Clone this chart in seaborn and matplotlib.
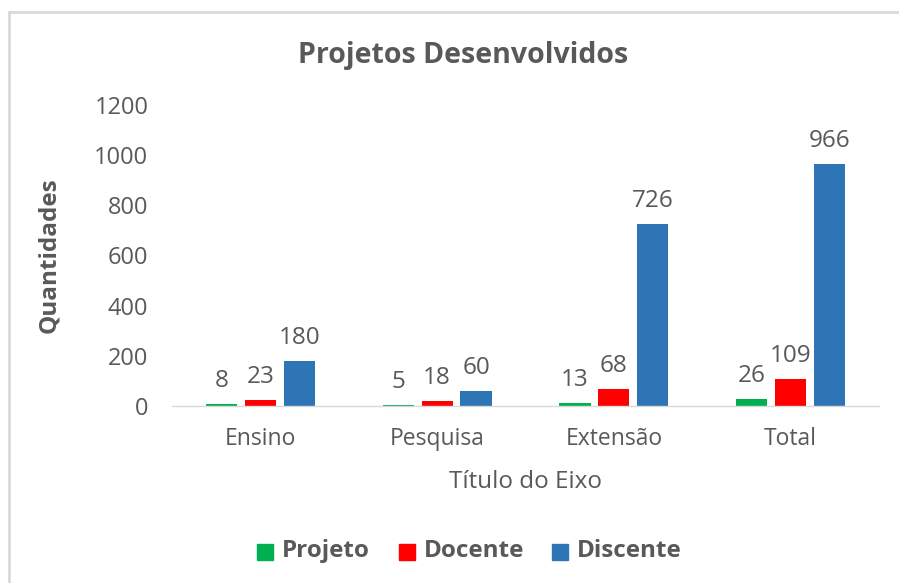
import matplotlib
matplotlib.use("Agg")
import matplotlib.pyplot as plt
from matplotlib.lines import Line2D
import seaborn as sns
import pandas as pd

categories = ["Ensino", "Pesquisa", "Extensão", "Total"]
series_names = ["Projeto", "Docente", "Discente"]
projeto = [8, 5, 13, 26]
docente = [23, 18, 68, 109]
discente = [180, 60, 726, 966]
colors = ["#00B050", "#FF0000", "#2E75B6"]
yticks = [0, 200, 400, 600, 800, 1000, 1200]

rows = []
for name, vals in zip(series_names, [projeto, docente, discente]):
    for c, v in zip(categories, vals):
        rows.append({"Categoria": c, "Série": name, "Valor": v})
df = pd.DataFrame(rows)

sns.set_theme(style="white")
plt.rcParams["font.family"] = ["Open Sans", "DejaVu Sans"]
text_color = "#595959"

W, H = 899, 583
fig = plt.figure(figsize=(W / 100, H / 100), dpi=100)
ax = fig.add_axes([172 / W, 1 - 406 / H, (879 - 172) / W, (406 - 105) / H])

sns.barplot(data=df, x="Categoria", y="Valor", hue="Série", order=categories,
            hue_order=series_names, palette=colors, width=0.66, gap=0.2,
            saturation=1, linewidth=0, ax=ax, legend=False)

for cont in ax.containers:
    ax.bar_label(cont, padding=8, fontsize=17.5, color=text_color)

ax.set_ylim(0, 1200)
ax.set_yticks(yticks)
ax.set_yticklabels([str(t) for t in yticks], fontsize=17, color=text_color)
ax.tick_params(axis="x", labelsize=16.5, colors=text_color, length=0, pad=15)
ax.tick_params(axis="y", length=0, pad=17)
for s in ["top", "right", "left"]:
    ax.spines[s].set_visible(False)
ax.spines["bottom"].set_color("#D9D9D9")
ax.spines["bottom"].set_linewidth(1)

ax.set_xlabel("Título do Eixo", fontsize=17.5, color=text_color, labelpad=14)
ax.set_ylabel("Quantidades", fontsize=17.5, fontweight="bold", color=text_color, labelpad=24)

fig.text(463 / W, 1 - 56 / H, "Projetos Desenvolvidos", ha="center", va="center",
         fontsize=20.5, fontweight="bold", color=text_color)

handles = [Line2D([0], [0], marker="s", linestyle="none", markersize=11,
                  markerfacecolor=c, markeredgecolor=c) for c in colors]
leg = fig.legend(handles, series_names, loc="center", bbox_to_anchor=(466 / W, 1 - 551 / H),
                 ncol=3, frameon=False, handletextpad=0.1, columnspacing=1.4)
for t in leg.get_texts():
    t.set_fontsize(17.5)
    t.set_fontweight("bold")
    t.set_color(text_color)

border = "#D9D9D9"
fig.add_artist(Line2D([9 / W, 9 / W], [0, 1 - 12 / H], transform=fig.transFigure, color=border, lw=2))
fig.add_artist(Line2D([9 / W, 1], [1 - 12 / H, 1 - 12 / H], transform=fig.transFigure, color=border, lw=2))

fig.savefig("out.png", dpi=100)
